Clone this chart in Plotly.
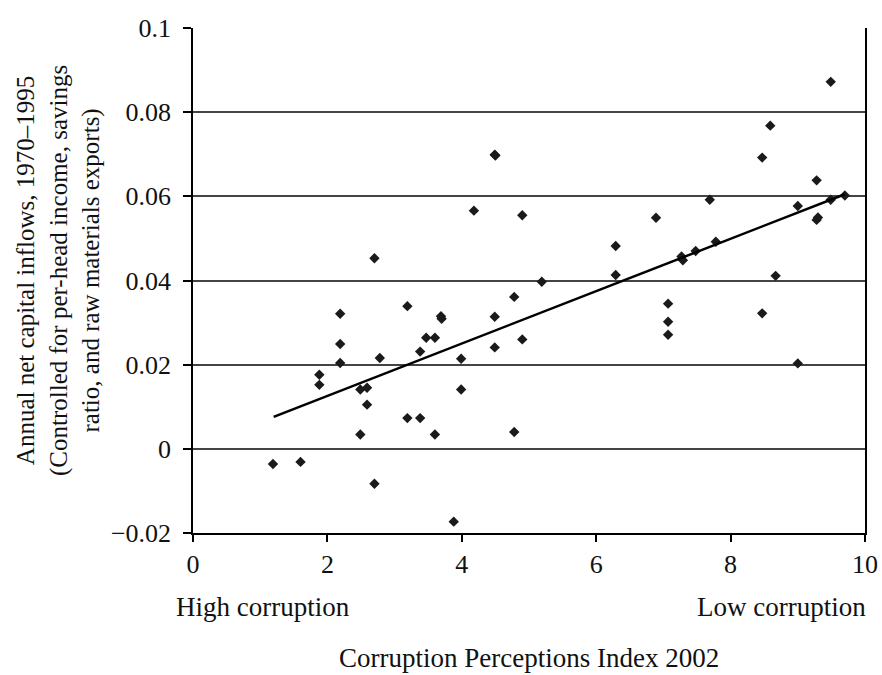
import plotly.graph_objects as go

cpi = [1.19, 1.60, 1.88, 1.88, 2.19, 2.19, 2.19, 2.49, 2.49, 2.59, 2.59, 2.70, 2.70, 2.78,
       3.19, 3.19, 3.38, 3.38, 3.47, 3.60, 3.60, 3.69, 3.70, 3.88, 3.99, 3.99,
       4.18, 4.49, 4.50, 4.49, 4.49, 4.78, 4.78, 4.90, 4.90, 5.19,
       6.29, 6.29, 6.89, 7.07, 7.07, 7.07, 7.27, 7.29, 7.48, 7.69, 7.78,
       8.47, 8.47, 8.59, 8.67, 9.00, 9.00, 9.28, 9.28, 9.30, 9.49, 9.49, 9.70]
inflows = [-0.0036, -0.0031, 0.0176, 0.0152, 0.0321, 0.0249, 0.0204, 0.0141, 0.0034, 0.0145, 0.0105, 0.0453, -0.0083, 0.0216,
           0.0339, 0.0073, 0.0231, 0.0073, 0.0264, 0.0264, 0.0034, 0.0315, 0.0309, -0.0173, 0.0214, 0.0141,
           0.0566, 0.0699, 0.0697, 0.0314, 0.0241, 0.0361, 0.0040, 0.0555, 0.0260, 0.0397,
           0.0482, 0.0413, 0.0549, 0.0345, 0.0302, 0.0271, 0.0457, 0.0448, 0.0470, 0.0592, 0.0492,
           0.0692, 0.0322, 0.0768, 0.0411, 0.0577, 0.0203, 0.0638, 0.0544, 0.0550, 0.0872, 0.0592, 0.0602]

trend_x = [1.2, 9.7]
trend_y = [0.0076, 0.0605]

x_ticks = [0, 2, 4, 6, 8, 10]
y_ticks = [-0.02, 0, 0.02, 0.04, 0.06, 0.08, 0.1]
y_tick_labels = ["\u22120.02", "0", "0.02", "0.04", "0.06", "0.08", "0.1"]

FONT = "Liberation Serif"
INK = "#111111"

fig = go.Figure()
fig.add_trace(go.Scatter(x=cpi, y=inflows, mode="markers",
                         marker=dict(symbol="diamond", size=8, color="#1a1a1a", line=dict(width=0)),
                         showlegend=False))
fig.add_trace(go.Scatter(x=trend_x, y=trend_y, mode="lines",
                         line=dict(color="#000000", width=2.5), showlegend=False))

fig.update_layout(
    width=882, height=675,
    margin=dict(l=193, r=17, t=28, b=142),
    paper_bgcolor="white", plot_bgcolor="white",
    font=dict(family=FONT, color=INK, size=26),
    xaxis=dict(range=[0, 10], tickvals=x_ticks, ticks="outside", ticklen=7, tickwidth=1.5,
               tickcolor="#000", showline=True, linecolor="#000", linewidth=1.5,
               showgrid=False, zeroline=False, automargin=False,
               tickfont=dict(size=26, family=FONT, color=INK)),
    yaxis=dict(range=[-0.02, 0.1], tickvals=y_ticks, ticktext=y_tick_labels, ticks="outside",
               ticklen=8, tickwidth=1.5, tickcolor="#000", showline=True, mirror=True,
               linecolor="#000", linewidth=1.5, showgrid=True, gridcolor="#444444", gridwidth=1.5,
               zeroline=False, automargin=False, ticklabelstandoff=7,
               tickfont=dict(size=26, family=FONT, color=INK)),
)

fig.add_annotation(text="High corruption", xref="paper", yref="paper", x=-0.029, y=-0.146,
                   xanchor="left", yanchor="middle", showarrow=False,
                   font=dict(size=27, family=FONT, color=INK))
fig.add_annotation(text="Low corruption", xref="paper", yref="paper", x=1.004, y=-0.146,
                   xanchor="right", yanchor="middle", showarrow=False,
                   font=dict(size=27, family=FONT, color=INK))
fig.add_annotation(text="Corruption Perceptions Index 2002", xref="paper", yref="paper",
                   x=0.5, y=-0.247, xanchor="center", yanchor="middle", showarrow=False,
                   font=dict(size=27, family=FONT, color=INK))
fig.add_annotation(text="Annual net capital inflows, 1970\u20131995<br>(Controlled for per-head income, savings<br>ratio, and raw materials exports)",
                   xref="paper", yref="paper", x=-0.2, y=0.52, xanchor="center", yanchor="middle",
                   textangle=-90, showarrow=False, align="center",
                   font=dict(size=25, family=FONT, color=INK))

fig.write_html("out.html")
